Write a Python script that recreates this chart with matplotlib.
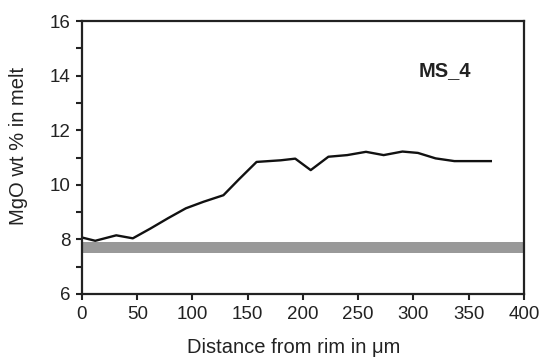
import matplotlib
matplotlib.use("Agg")
import matplotlib.pyplot as plt
from matplotlib.ticker import MultipleLocator

plt.rcParams['font.family'] = ['Liberation Sans', 'DejaVu Sans']

# MgO profile across the melt inclusion
distance = [0, 12, 31, 46, 62, 78, 94, 110, 128, 142, 158, 180, 193, 207,
            223, 240, 257, 273, 290, 304, 320, 337, 354, 370]
mgo = [8.07, 7.95, 8.15, 8.04, 8.4, 8.78, 9.14, 9.38, 9.62, 10.2, 10.84, 10.9,
       10.96, 10.54, 11.03, 11.09, 11.21, 11.09, 11.22, 11.17, 10.97, 10.87,
       10.87, 10.87]

# equilibrium MgO range (shaded band)
band_low, band_high = 7.52, 7.91
sample_name = "MS_4"

fig = plt.figure(figsize=(5.44, 3.58), dpi=100)
ax = fig.add_axes([0.1507, 0.1788, 0.8125, 0.7622])

ax.axhspan(band_low, band_high, color='#999999', lw=0, zorder=1)
ax.plot(distance, mgo, color='#111111', lw=1.7, zorder=2)

ax.set_xlim(0, 400)
ax.set_ylim(6, 16)
ax.xaxis.set_major_locator(MultipleLocator(50))
ax.yaxis.set_major_locator(MultipleLocator(2))
ax.yaxis.set_minor_locator(MultipleLocator(1))
ax.tick_params(axis='both', which='major', direction='out', length=4.5, width=1.5,
               labelsize=13.5, pad=4, colors='#222222')
ax.tick_params(axis='y', which='minor', direction='out', length=4.5, width=1.5,
               color='#222222')
for s in ax.spines.values():
    s.set_linewidth(1.6)
    s.set_color('#222222')

ax.set_xlabel("Distance from rim in \u03bcm", fontsize=14.5, color='#222222')
ax.set_ylabel("MgO wt % in melt", fontsize=14.5, color='#222222')
ax.xaxis.set_label_coords(0.478, -0.163)
ax.yaxis.set_label_coords(-0.122, 0.542)

ax.text(328, 14.2, sample_name, fontsize=14.5, fontweight='bold',
        ha='center', va='center', color='#222222')

fig.savefig("out.png", dpi=100)
